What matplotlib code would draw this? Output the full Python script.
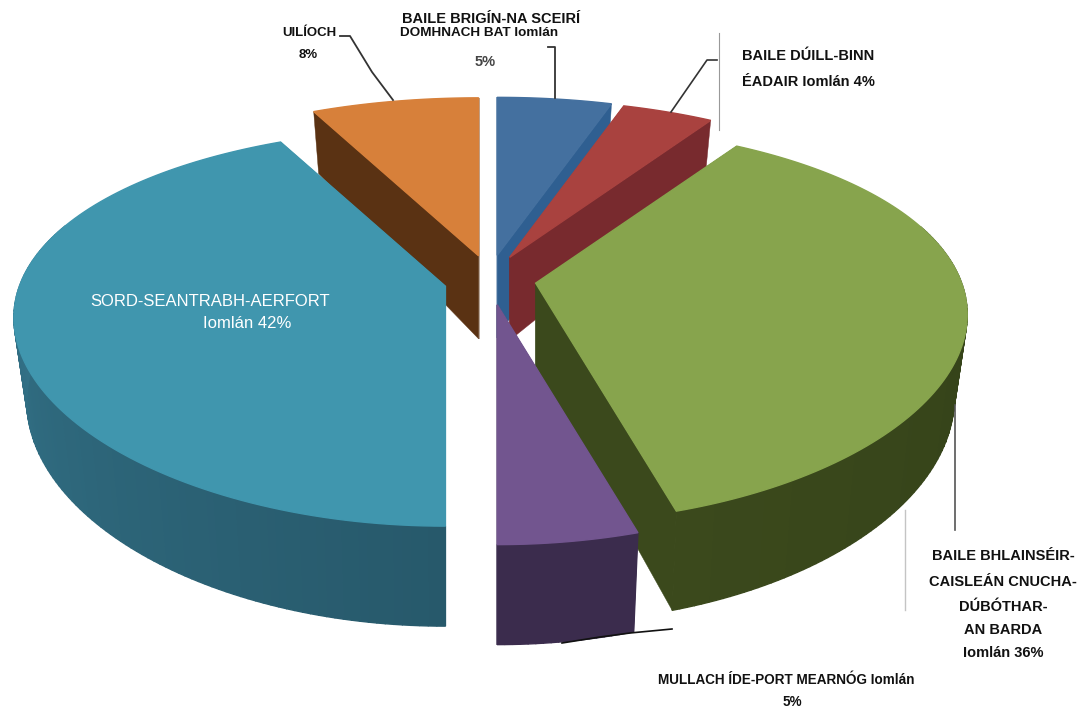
#3D looking exploded pie, drawn by hand since matplotlib has no perspective pie
import numpy as np
import matplotlib
matplotlib.use("Agg")
import matplotlib.pyplot as plt
from matplotlib.colors import to_rgb

plt.rcParams['font.family'] = ['Liberation Sans', 'DejaVu Sans']

categories = ["BAILE BRIGIN", "BAILE DUILL", "BAILE BHLAINSEIR", "MULLACH IDE", "SORD", "UILIOCH"]
values = [5, 4, 36, 5, 42, 8]
top_colors = ["#44709f", "#a9423f", "#87a44d", "#72558f", "#4096ae", "#d7803a"]
wall_colors = ["#2f5f91", "#782a2e", "#3b491c", "#3b2c4d", "#3a8199", "#5a3213"]
rim_end_colors = ["#2f5f91", "#782a2e", "#2f3d17", "#3b2c4d", "#27596b", "#5a3213"]

center_x, center_y = 490, 280
explode_x, explode_y = 46, 25
radius_x, radius_y = 426, 190.5
persp_x, persp_y = 0.16, 0.206
depth_mid, depth_tilt = 80, 20
apex_depth = 83
bottom_scale = 0.97
# the camera pushes angles a little in two of the quadrants
warp = np.radians(3)


def rim_point(ax0, ay0, angle, bottom=False):
    angle = angle + warp * max(0, -np.sin(2 * angle))
    a = np.sin(angle)
    b = np.cos(angle)
    x = radius_x * a / (1 + persp_x * b)
    y = -radius_y * b / (1 + persp_y * b)
    if bottom:
        return ax0 + bottom_scale * x, ay0 + y + depth_mid - depth_tilt * b
    return ax0 + x, ay0 + y


def mix(c1, c2, t):
    c1 = np.array(to_rgb(c1))
    c2 = np.array(to_rgb(c2))
    return tuple(c1 + (c2 - c1) * t)


fig = plt.figure(figsize=(10.82, 7.08), dpi=100)
ax = fig.add_axes([0, 0, 1, 1])
ax.set_xlim(0, 1082)
ax.set_ylim(708, 0)
ax.axis("off")

edges = np.radians(np.cumsum([0] + values) * 3.6)

# back to front
draw_order = [0, 1, 5, 4, 2, 3]
for i in draw_order:
    start, end = edges[i], edges[i + 1]
    mid = (start + end) / 2
    apex_x = center_x + explode_x * np.sin(mid)
    apex_y = center_y - explode_y * np.cos(mid)
    apex_bottom = apex_y + apex_depth
    layer = draw_order.index(i) * 3

    # cut walls
    for side in [start, end]:
        p_top = rim_point(apex_x, apex_y, side)
        p_bot = rim_point(apex_x, apex_y, side, True)
        ax.fill([apex_x, p_top[0], p_bot[0], apex_x], [apex_y, p_top[1], p_bot[1], apex_bottom],
                color=wall_colors[i], lw=0.3, zorder=layer + 1)

    # outer wall in thin strips for the shading, the back of the rim is hidden anyway
    angles = np.linspace(start, end, max(int(np.degrees(end - start)), 2) + 1)
    for j in range(len(angles) - 1):
        if np.cos(angles[j]) > 0.3 and np.cos(angles[j + 1]) > 0.3:
            continue
        p1 = rim_point(apex_x, apex_y, angles[j])
        p2 = rim_point(apex_x, apex_y, angles[j + 1])
        p3 = rim_point(apex_x, apex_y, angles[j + 1], True)
        p4 = rim_point(apex_x, apex_y, angles[j], True)
        shade = mix(rim_end_colors[i], wall_colors[i], j / (len(angles) - 1))
        ax.fill([p1[0], p2[0], p3[0], p4[0]], [p1[1], p2[1], p3[1], p4[1]],
                color=shade, lw=1.0, zorder=layer + 2)

    # top face, with its own stroke so the wall strips do not peek out at the rim
    top_angles = np.linspace(start, end, 120)
    rim = [rim_point(apex_x, apex_y, t) for t in top_angles]
    ax.fill([apex_x] + [p[0] for p in rim], [apex_y] + [p[1] for p in rim],
            color=top_colors[i], lw=1.0, zorder=layer + 3)

# leader lines
ax.plot([340, 350, 372, 393], [36, 36, 72, 100], color="#333333", lw=1.3, zorder=30)
ax.plot([548, 555, 555], [47, 47, 98], color="#333333", lw=1.3, zorder=30)
ax.plot([717, 707, 671], [60, 60, 112], color="#333333", lw=1.2, zorder=30)
ax.plot([719, 719], [33, 130], color="#999999", lw=0.8, zorder=30)
ax.plot([955, 955], [405, 530], color="#555555", lw=1.2, zorder=30)
ax.plot([905, 905], [510, 610], color="#c4c4c4", lw=1.0, zorder=30)
ax.plot([562, 600, 630, 672], [643, 637, 633, 629], color="#111111", lw=1.2, zorder=30)

# labels
bold = dict(fontweight="bold", color="#111111", ha="center", va="center", zorder=40)
ax.text(491, 19, "BAILE BRIGÍN-NA SCEIRÍ", fontsize=10.5, **bold)
ax.text(479, 33, "DOMHNACH BAT Iomlán", fontsize=9.7, **bold)
ax.text(485, 62, "5%", fontsize=10.5, fontweight="bold", color="#444444", ha="center", va="center")
ax.text(309, 33, "UILÍOCH", fontsize=9.5, **bold)
ax.text(308, 55, "8%", fontsize=9.5, **bold)
ax.text(808, 56, "BAILE DÚILL-BINN", fontsize=10.5, **bold)
ax.text(808, 82, "ÉADAIR Iomlán 4%", fontsize=10.5, **bold)
ax.text(1003, 556, "BAILE BHLAINSÉIR-", fontsize=10.5, **bold)
ax.text(1003, 582, "CAISLEÁN CNUCHA-", fontsize=10.5, **bold)
ax.text(1003, 607, "DÚBÓTHAR-", fontsize=10.5, **bold)
ax.text(1003, 630, "AN BARDA", fontsize=10.5, **bold)
ax.text(1003, 653, "Iomlán 36%", fontsize=10.5, **bold)
ax.text(786, 680, "MULLACH ÍDE-PORT MEARNÓG Iomlán", fontsize=9.75, **bold)
ax.text(792, 702, "5%", fontsize=9.75, **bold)
ax.text(90, 302, "SORD-SEANTRABH-AERFORT", fontsize=12, color="white", ha="left", va="center", zorder=40)
ax.text(247, 324, "Iomlán 42%", fontsize=12, color="white", ha="center", va="center", zorder=40)

fig.savefig("out.png", dpi=100)
